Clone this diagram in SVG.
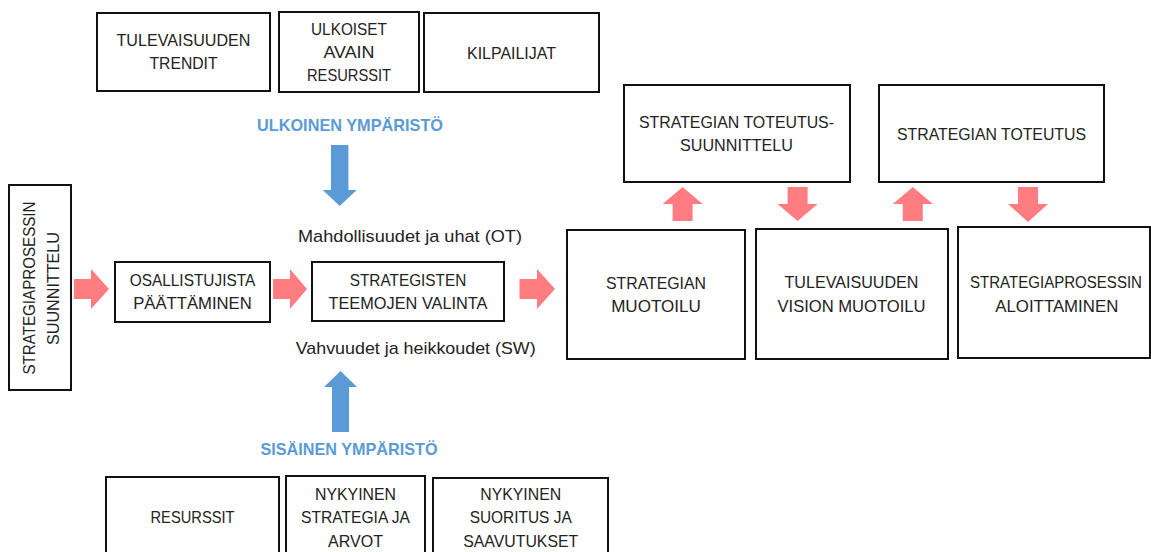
<svg xmlns="http://www.w3.org/2000/svg" width="1151" height="552" viewBox="0 0 1151 552">
  <style>
    .box { fill: #ffffff; stroke: #111111; stroke-width: 2; }
    .t { font-family: "Liberation Sans", Arial, sans-serif; font-size: 17px; fill: #222222; text-anchor: middle; }
    .t-tight { font-size: 16px; }
    .env { font-family: "Liberation Sans", Arial, sans-serif; font-size: 17px; font-weight: bold; fill: #5B9BD5; text-anchor: middle; }
    .flow { fill: #FF7C80; }
    .env-arrow { fill: #5B9BD5; }
  </style>
  <rect width="1151" height="552" fill="#ffffff"/>

  <!-- external environment factors -->
  <g id="tulevaisuuden-trendit">
    <rect class="box" x="97" y="13" width="173" height="78"/>
    <text class="t" x="183.5" y="46" textLength="134" lengthAdjust="spacingAndGlyphs">TULEVAISUUDEN</text>
    <text class="t" x="183.5" y="69" textLength="68" lengthAdjust="spacingAndGlyphs">TRENDIT</text>
  </g>
  <g id="ulkoiset-avain-resurssit">
    <rect class="box" x="279" y="12" width="140" height="80"/>
    <text class="t" x="349" y="35" textLength="76" lengthAdjust="spacingAndGlyphs">ULKOISET</text>
    <text class="t" x="349" y="57.5" textLength="51" lengthAdjust="spacingAndGlyphs">AVAIN</text>
    <text class="t" x="349" y="81" textLength="84" lengthAdjust="spacingAndGlyphs">RESURSSIT</text>
  </g>
  <g id="kilpailijat">
    <rect class="box" x="424" y="13" width="175" height="79"/>
    <text class="t" x="511.5" y="59" textLength="89" lengthAdjust="spacingAndGlyphs">KILPAILIJAT</text>
  </g>

  <!-- process steps -->
  <g id="strategiaprosessin-suunnittelu">
    <rect class="box" x="9" y="185" width="62" height="205"/>
    <text class="t" transform="translate(34.5,288) rotate(-90)" textLength="173" lengthAdjust="spacingAndGlyphs">STRATEGIAPROSESSIN</text>
    <text class="t" transform="translate(59.2,288.5) rotate(-90)" textLength="113" lengthAdjust="spacingAndGlyphs">SUUNNITTELU</text>
  </g>
  <g id="osallistujista-paattaminen">
    <rect class="box" x="115" y="262" width="155" height="60"/>
    <text class="t" x="192.5" y="286" textLength="125.6" lengthAdjust="spacingAndGlyphs">OSALLISTUJISTA</text>
    <text class="t" x="192.5" y="309" textLength="118.6" lengthAdjust="spacingAndGlyphs">PÄÄTTÄMINEN</text>
  </g>
  <g id="strategisten-teemojen-valinta">
    <rect class="box" x="312" y="262" width="192" height="59"/>
    <text class="t" x="408" y="286" textLength="116.5" lengthAdjust="spacingAndGlyphs">STRATEGISTEN</text>
    <text class="t" x="408" y="309" textLength="159" lengthAdjust="spacingAndGlyphs">TEEMOJEN VALINTA</text>
  </g>
  <g id="strategian-muotoilu">
    <rect class="box" x="567" y="230" width="178" height="129"/>
    <text class="t" x="656" y="288.5" textLength="99.9" lengthAdjust="spacingAndGlyphs">STRATEGIAN</text>
    <text class="t" x="656" y="312" textLength="89.7" lengthAdjust="spacingAndGlyphs">MUOTOILU</text>
  </g>
  <g id="strategian-toteutussuunnittelu">
    <rect class="box" x="624" y="85" width="226" height="97"/>
    <text class="t" x="736.5" y="128" textLength="195" lengthAdjust="spacingAndGlyphs">STRATEGIAN TOTEUTUS-</text>
    <text class="t" x="736.5" y="151.2" textLength="113" lengthAdjust="spacingAndGlyphs">SUUNNITTELU</text>
  </g>
  <g id="tulevaisuuden-vision-muotoilu">
    <rect class="box" x="756" y="229" width="192" height="130"/>
    <text class="t" x="851.5" y="288" textLength="134" lengthAdjust="spacingAndGlyphs">TULEVAISUUDEN</text>
    <text class="t" x="851.5" y="312" textLength="148" lengthAdjust="spacingAndGlyphs">VISION MUOTOILU</text>
  </g>
  <g id="strategian-toteutus">
    <rect class="box" x="879" y="85" width="225" height="97"/>
    <text class="t" x="991.5" y="139.5" textLength="189" lengthAdjust="spacingAndGlyphs">STRATEGIAN TOTEUTUS</text>
  </g>
  <g id="strategiaprosessin-aloittaminen">
    <rect class="box" x="958" y="227" width="192" height="131"/>
    <text class="t t-tight" x="1056" y="288" textLength="172" lengthAdjust="spacingAndGlyphs">STRATEGIAPROSESSIN</text>
    <text class="t" x="1056.8" y="311.5" textLength="123" lengthAdjust="spacingAndGlyphs">ALOITTAMINEN</text>
  </g>

  <!-- internal environment factors -->
  <g id="resurssit">
    <rect class="box" x="106" y="477" width="173" height="90"/>
    <text class="t" x="192.5" y="523" textLength="84" lengthAdjust="spacingAndGlyphs">RESURSSIT</text>
  </g>
  <g id="nykyinen-strategia-ja-arvot">
    <rect class="box" x="286" y="476" width="139" height="90"/>
    <text class="t" x="355.5" y="500" textLength="81" lengthAdjust="spacingAndGlyphs">NYKYINEN</text>
    <text class="t" x="355.5" y="523.3" textLength="109" lengthAdjust="spacingAndGlyphs">STRATEGIA JA</text>
    <text class="t" x="355.5" y="546.7" textLength="55" lengthAdjust="spacingAndGlyphs">ARVOT</text>
  </g>
  <g id="nykyinen-suoritus-ja-saavutukset">
    <rect class="box" x="433" y="478" width="175" height="90"/>
    <text class="t" x="520.7" y="500" textLength="81" lengthAdjust="spacingAndGlyphs">NYKYINEN</text>
    <text class="t" x="520.7" y="523.3" textLength="102" lengthAdjust="spacingAndGlyphs">SUORITUS JA</text>
    <text class="t" x="520.7" y="546.7" textLength="115" lengthAdjust="spacingAndGlyphs">SAAVUTUKSET</text>
  </g>

  <!-- environment headings and SWOT labels -->
  <g id="labels">
    <text class="env" x="350" y="131" textLength="186" lengthAdjust="spacingAndGlyphs">ULKOINEN YMPÄRISTÖ</text>
    <text class="t" x="410" y="242" textLength="224" lengthAdjust="spacingAndGlyphs">Mahdollisuudet ja uhat (OT)</text>
    <text class="t" x="415.7" y="354" textLength="240" lengthAdjust="spacingAndGlyphs">Vahvuudet ja heikkoudet (SW)</text>
    <text class="env" x="349" y="455" textLength="177" lengthAdjust="spacingAndGlyphs">SISÄINEN YMPÄRISTÖ</text>
  </g>

  <!-- connectors: block arrows -->
  <g id="connectors">
    <!-- horizontal flow arrows -->
    <polygon class="flow" points="74,279 91,279 91,269 109,289 91,309 91,299 74,299"/>
    <polygon class="flow" points="273,279 290,279 290,269 307,289 290,309 290,299 273,299"/>
    <polygon class="flow" points="519.5,279 537,279 537,269 555,289 537,309 537,299 519.5,299"/>
    <!-- vertical flow arrows between the right-hand boxes -->
    <polygon class="flow" points="672.6,221 672.6,204 662.6,204 682.6,187 702.6,204 692.6,204 692.6,221"/>
    <polygon class="flow" points="787.6,187 807.6,187 807.6,204 817.6,204 797.6,221 777.6,204 787.6,204"/>
    <polygon class="flow" points="902.8,221 902.8,204 892.8,204 912.8,187 932.8,204 922.8,204 922.8,221"/>
    <polygon class="flow" points="1018,187 1038,187 1038,204 1048,204 1028,222 1008,204 1018,204"/>
    <!-- environment arrows -->
    <polygon class="env-arrow" points="331,145 348.4,145 348.4,190 356.7,190 339.7,206 322.7,190 331,190"/>
    <polygon class="env-arrow" points="332,432 349,432 349,387 357,387 340.5,371 324,387 332,387"/>
  </g>
</svg>
